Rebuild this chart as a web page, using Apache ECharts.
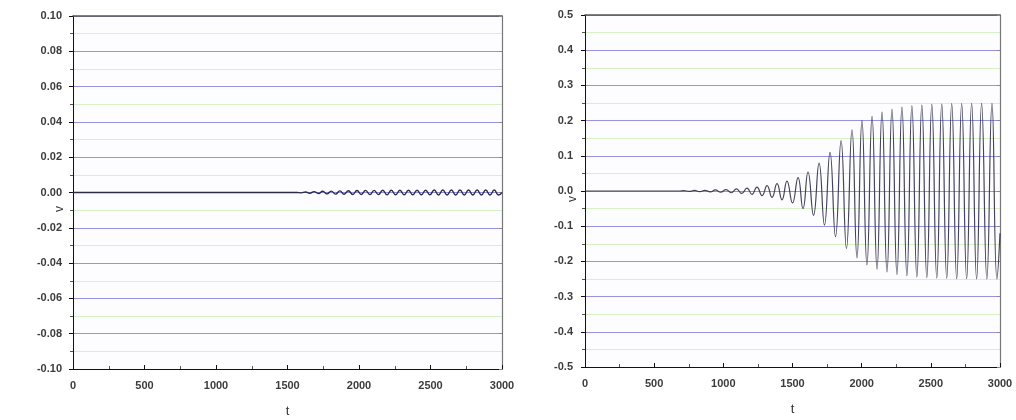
<!DOCTYPE html>
<html>
<head>
<meta charset="utf-8">
<script src="https://cdn.jsdelivr.net/npm/echarts@6/dist/echarts.min.js"></script>
<style>
html,body{margin:0;padding:0;background:#fff;}
#chart{width:1016px;height:420px;}
</style>
</head>
<body>
<div id="chart"></div>
<script>
// ---- data (extrema of the oscillation) ----
var xTicks = [0, 500, 1000, 1500, 2000, 2500, 3000];
var leftYTicks = [-0.10, -0.08, -0.06, -0.04, -0.02, 0.00, 0.02, 0.04, 0.06, 0.08, 0.10];
var rightYTicks = [-0.5, -0.4, -0.3, -0.2, -0.1, 0.0, 0.1, 0.2, 0.3, 0.4, 0.5];

var leftT = [0, 1566, 1596, 1626, 1656, 1686, 1716, 1746, 1776, 1806, 1836, 1866, 1896, 1926, 1956, 1986, 2016, 2046, 2076, 2106, 2136, 2166, 2196, 2226, 2256, 2286, 2316, 2346, 2376, 2406, 2436, 2466, 2496, 2526, 2556, 2586, 2616, 2646, 2676, 2706, 2736, 2766, 2796, 2826, 2856, 2886, 2916, 2946, 2976, 3000];
var leftV = [0, 0, -0.0002, 0.0003, -0.0004, 0.0005, -0.0006, 0.0007, -0.0008, 0.0008, -0.0009, 0.0009, -0.001, 0.001, -0.0011, 0.0011, -0.0011, 0.0012, -0.0012, 0.0012, -0.0012, 0.0013, -0.0013, 0.0013, -0.0013, 0.0013, -0.0013, 0.0013, -0.0013, 0.0013, -0.0013, 0.0013, -0.0013, 0.0014, -0.0014, 0.0014, -0.0014, 0.0014, -0.0014, 0.0014, -0.0014, 0.0014, -0.0014, 0.0014, -0.0014, 0.0014, -0.0014, 0.0014, -0.0014, 0];

var rightT = [0, 680, 715, 753, 791, 829, 867, 905, 943, 981, 1019, 1057, 1095, 1133, 1171, 1207, 1243, 1280, 1316, 1352, 1388, 1424, 1460, 1500, 1540, 1576, 1612, 1652, 1692, 1731, 1771, 1811, 1851, 1890, 1930, 1966, 2002, 2038, 2075, 2111, 2147, 2183, 2219, 2255, 2291, 2327, 2363, 2399, 2435, 2471, 2507, 2543, 2579, 2615, 2651, 2687, 2723, 2759, 2795, 2831, 2867, 2905, 2942, 2978, 3000];
var rightV = [0, 0, 0.001, -0.0012, 0.0015, -0.0018, 0.002, -0.0025, 0.003, -0.0035, 0.004, -0.005, 0.006, -0.007, 0.008, -0.0095, 0.011, -0.013, 0.015, -0.018, 0.021, -0.025, 0.028, -0.034, 0.038, -0.05, 0.054, -0.069, 0.079, -0.097, 0.11, -0.13, 0.143, -0.164, 0.174, -0.19, 0.2, -0.21, 0.212, -0.222, 0.224, -0.23, 0.232, -0.237, 0.238, -0.241, 0.242, -0.244, 0.244, -0.246, 0.246, -0.247, 0.247, -0.248, 0.248, -0.249, 0.248, -0.249, 0.249, -0.25, 0.249, -0.25, 0.249, -0.25, -0.12];

function pairs(t, v) {
  var n = Math.min(t.length, v.length), out = [];
  for (var i = 0; i < n; i++) out.push([t[i], v[i]]);
  return out;
}

var FONT = 'Liberation Sans, Arial, sans-serif';
var labelStyle = {fontFamily: FONT, fontSize: 11, fontWeight: 'bold', color: '#3c3c3c'};
var majorColor = '#9494e2';
var minorColor = '#d9f0c6';

function xAxisDef(gi) {
  return {
    type: 'value', gridIndex: gi, min: xTicks[0], max: xTicks[xTicks.length - 1], interval: 500,
    name: 't', nameLocation: 'middle', nameGap: 36,
    nameTextStyle: {fontFamily: FONT, fontSize: 13, color: '#333'},
    axisLine: {show: true, onZero: false, lineStyle: {color: '#111', width: 1}},
    axisTick: {show: true, inside: true, length: 4, lineStyle: {color: '#111'}},
    minorTick: {show: true, splitNumber: 2, length: 3, lineStyle: {color: '#555'}},
    axisLabel: Object.assign({margin: 11, formatter: function (v) { return String(v); }}, labelStyle),
    splitLine: {show: false}
  };
}
function xTopDef(gi) {
  return {
    type: 'value', gridIndex: gi, position: 'top', min: xTicks[0], max: xTicks[xTicks.length - 1], interval: 500,
    axisLine: {show: true, onZero: false, lineStyle: {color: '#555', width: 1.5}},
    axisTick: {show: false}, axisLabel: {show: false}, splitLine: {show: false}
  };
}
function yAxisDef(gi, ticks, dec, margin) {
  return {
    type: 'value', gridIndex: gi, min: ticks[0], max: ticks[ticks.length - 1],
    interval: Math.round((ticks[1] - ticks[0]) * 1000) / 1000,
    axisLine: {show: true, onZero: false, lineStyle: {color: '#111', width: 1}},
    axisTick: {show: true, inside: false, length: 4, lineStyle: {color: '#111'}},
    minorTick: {show: true, splitNumber: 2, length: 3, lineStyle: {color: '#555'}},
    axisLabel: Object.assign({margin: margin, formatter: function (v) { return v.toFixed(dec); }}, labelStyle),
    splitLine: {show: true, lineStyle: {color: majorColor, width: 1}},
    minorSplitLine: {show: true, lineStyle: {color: minorColor, width: 1}}
  };
}
function yRightDef(gi, ticks) {
  return {
    type: 'value', gridIndex: gi, position: 'right', min: ticks[0], max: ticks[ticks.length - 1],
    interval: Math.round((ticks[1] - ticks[0]) * 1000) / 1000,
    axisLine: {show: true, onZero: false, lineStyle: {color: '#777', width: 1.2}},
    axisTick: {show: true, inside: true, length: 3, lineStyle: {color: '#888'}},
    axisLabel: {show: false}, splitLine: {show: false}
  };
}

var chart = echarts.init(document.getElementById('chart'), null, {renderer: 'canvas'});
chart.setOption({
  animation: false,
  backgroundColor: '#ffffff',
  grid: [
    {left: 73, right: 514, top: 16, bottom: 51, show: true, borderWidth: 0, backgroundColor: '#fdfdff', containLabel: false, outerBoundsMode: 'none'},
    {left: 585, right: 16, top: 15, bottom: 53, show: true, borderWidth: 0, backgroundColor: '#fdfdff', containLabel: false, outerBoundsMode: 'none'}
  ],
  xAxis: [xAxisDef(0), xAxisDef(1), xTopDef(0), xTopDef(1)],
  yAxis: [yAxisDef(0, leftYTicks, 2, 11), yAxisDef(1, rightYTicks, 1, 12), yRightDef(0, leftYTicks), yRightDef(1, rightYTicks)],
  graphic: [
    {type: 'text', left: 54, top: 206, rotation: Math.PI / 2, style: {text: 'v', fontFamily: FONT, fontSize: 12, fill: '#333'}},
    {type: 'text', left: 567, top: 196, rotation: Math.PI / 2, style: {text: 'v', fontFamily: FONT, fontSize: 12, fill: '#333'}}
  ],
  series: [
    {type: 'line', xAxisIndex: 0, yAxisIndex: 0, data: pairs(leftT, leftV), smooth: 0.5, showSymbol: false,
      lineStyle: {color: '#2b2b4a', width: 1.4}},
    {type: 'line', xAxisIndex: 1, yAxisIndex: 1, data: pairs(rightT, rightV), smooth: 0.5, showSymbol: false,
      lineStyle: {color: '#303048', width: 1.2, opacity: 0.9}}
  ]
});
</script>
</body>
</html>
